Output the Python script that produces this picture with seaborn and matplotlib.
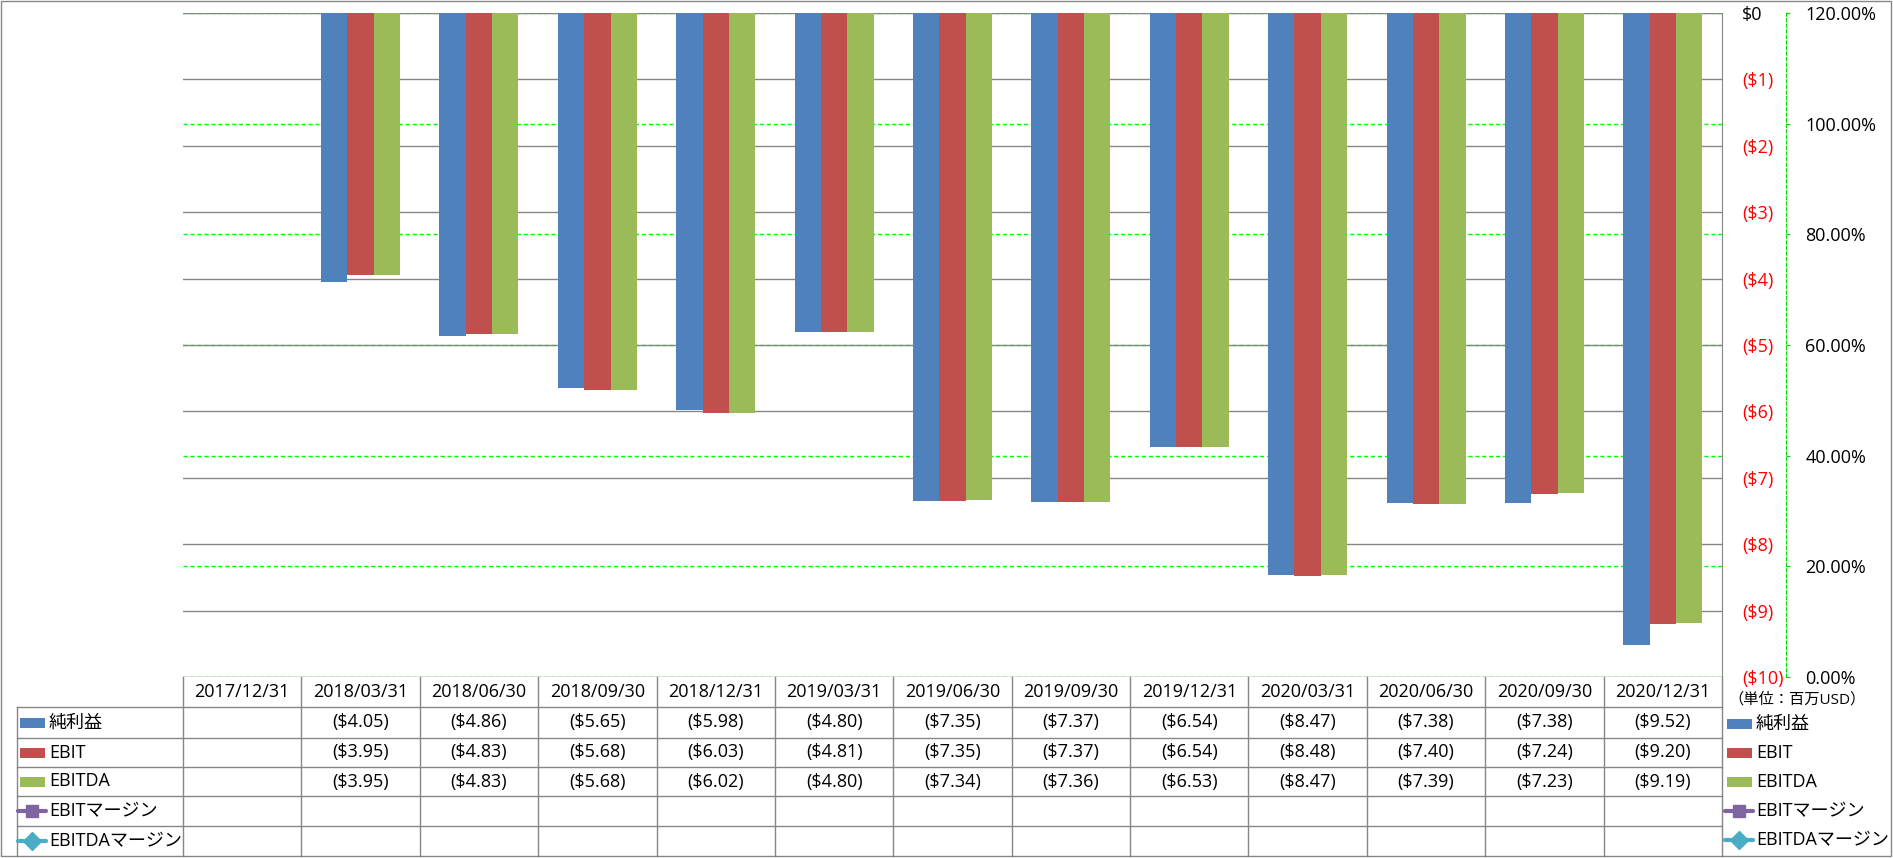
import numpy as np
import pandas as pd
import matplotlib
matplotlib.use("Agg")
import matplotlib.pyplot as plt
from matplotlib.patches import Rectangle
import seaborn as sns

plt.rcParams['font.family'] = ['Open Sans', 'Noto Sans CJK JP', 'DejaVu Sans']

# ---------------- data ----------------
dates = ["2017/12/31", "2018/03/31", "2018/06/30", "2018/09/30", "2018/12/31",
         "2019/03/31", "2019/06/30", "2019/09/30", "2019/12/31", "2020/03/31",
         "2020/06/30", "2020/09/30", "2020/12/31"]
net_income = [np.nan, -4.05, -4.86, -5.65, -5.98, -4.80, -7.35, -7.37, -6.54, -8.47, -7.38, -7.38, -9.52]
ebit = [np.nan, -3.95, -4.83, -5.68, -6.03, -4.81, -7.35, -7.37, -6.54, -8.48, -7.40, -7.24, -9.20]
ebitda = [np.nan, -3.95, -4.83, -5.68, -6.02, -4.80, -7.34, -7.36, -6.53, -8.47, -7.39, -7.23, -9.19]
ebit_margin = [np.nan] * 13
ebitda_margin = [np.nan] * 13

bar_series = ["純利益", "EBIT", "EBITDA"]
line_series = ["EBITマージン", "EBITDAマージン"]
bar_colors = ["#4F81BD", "#C0504D", "#9BBB59"]
line_colors = ["#8064A2", "#4BACC6"]
line_markers = ["s", "D"]
y_ticks = list(range(-10, 1))
pct_ticks = [0.0, 0.2, 0.4, 0.6, 0.8, 1.0, 1.2]
unit_label = "（単位：百万USD）"

df = pd.DataFrame({
    "date": dates * 3,
    "series": [s for s in bar_series for _ in dates],
    "value": net_income + ebit + ebitda,
})

# ---------------- layout ----------------
W, H = 1893, 858
fig = plt.figure(figsize=(W / 100, H / 100), dpi=100)
L, R, T, B = 183, 1722, 13, 677
ax = fig.add_axes([L / W, 1 - B / H, (R - L) / W, (B - T) / H])

sns.barplot(data=df, x="date", y="value", hue="series", order=dates,
            hue_order=bar_series, palette=bar_colors, width=0.667,
            saturation=1, errorbar=None, legend=False, linewidth=0,
            edgecolor="none", ax=ax)

# secondary axis (created first so the primary tick setup is not reset)
ax2 = ax.twinx()
ax2.set_zorder(ax.get_zorder() - 1)
ax2.patch.set_visible(False)
ax2.set_ylim(0, 1.2)
ax2.set_yticks(pct_ticks)
ax2.set_yticklabels([f"{v*100:.2f}%" for v in pct_ticks])
for s in ["left", "top", "bottom"]:
    ax2.spines[s].set_visible(False)
ax2.spines["right"].set_position(("axes", 1 + 64 / (R - L)))
ax2.spines["right"].set_color("#00E000")
ax2.spines["right"].set_linestyle((0, (3, 2)))
ax2.tick_params(axis="y", length=3, color="#00E000", pad=10.8, labelsize=13)
ax2.yaxis.grid(True, color="#00FF00", lw=1, ls=(0, (3, 2)))
for vals, c, m in zip([ebit_margin, ebitda_margin], line_colors, line_markers):
    ax2.plot(range(len(dates)), vals, color=c, marker=m, lw=3)

ax.set_xlim(-0.5, len(dates) - 0.5)
ax.set_ylim(-10, 0)
ax.set_xlabel("")
ax.set_ylabel("")
ax.tick_params(axis="x", bottom=False, labelbottom=False)
for s in ["left", "top", "bottom"]:
    ax.spines[s].set_visible(False)
ax.spines["right"].set_visible(True)
ax.spines["right"].set_color("#868686")
ax.yaxis.tick_right()
ax.yaxis.set_label_position("right")
ax.set_yticks(y_ticks)
ax.set_yticklabels(["$0" if v == 0 else f"(${abs(v)})" for v in y_ticks])
ax.tick_params(axis="y", left=False, labelleft=False, right=True, labelright=True,
               length=0, pad=14.4, labelsize=13)
for lab, v in zip(ax.get_yticklabels(), y_ticks):
    lab.set_color("black" if v == 0 else "#FF0000")
ax.yaxis.grid(True, color="#868686", lw=1)
ax.set_axisbelow(True)
ax.patch.set_visible(False)

# ---------------- overlay: table, legend, border ----------------
ov = fig.add_axes([0, 0, 1, 1], zorder=10)
ov.set_xlim(0, W)
ov.set_ylim(H, 0)
ov.axis("off")
grid_c = "#868686"
fs = 13
colw = (R - L) / len(dates)
rows = [677, 707, 738, 767, 796, 826, 856]
x0 = 17

ov.add_patch(Rectangle((1, 1), W - 3, H - 3, fill=False, ec=grid_c, lw=1))
for y in rows[1:-1]:
    ov.plot([x0, R], [y, y], color=grid_c, lw=1)
ov.plot([x0, x0], [rows[1], rows[-1]], color=grid_c, lw=1)
for k in range(len(dates) + 1):
    xx = L + k * colw
    ov.plot([xx, xx], [rows[0], rows[-1]], color=grid_c, lw=1)

yc = [(rows[i] + rows[i + 1]) / 2 for i in range(len(rows) - 1)]
for k, d in enumerate(dates):
    ov.text(L + (k + 0.5) * colw, yc[0], d, ha="center", va="center", fontsize=fs)
for r, vals in enumerate([net_income, ebit, ebitda]):
    for k, v in enumerate(vals):
        if not np.isnan(v):
            s = f"(${abs(v):.2f})" if v < 0 else f"${v:.2f}"
            ov.text(L + (k + 0.5) * colw, yc[r + 1], s, ha="center", va="center", fontsize=fs)


def key(xk, y, idx):
    if idx < 3:
        ov.add_patch(Rectangle((xk, y - 5), 25, 10, color=bar_colors[idx], lw=0))
    else:
        j = idx - 3
        ov.plot([xk - 2, xk + 26], [y, y], color=line_colors[j], lw=3,
                solid_capstyle="round")
        ov.plot([xk + 12], [y], color=line_colors[j], marker=line_markers[j],
                markersize=8 if j == 0 else 9, lw=0)


labels = bar_series + line_series
for i, lab in enumerate(labels):
    y = yc[i + 1]
    key(20, y, i)
    ov.text(49, y, lab, ha="left", va="center", fontsize=fs)

ov.text(1797, 700, unit_label, ha="center", va="center", fontsize=11)
for i, lab in enumerate(labels):
    y = 724 + i * 29
    key(1727, y, i)
    ov.text(1756, y, lab, ha="left", va="center", fontsize=fs)

fig.savefig("out.png", dpi=100)
